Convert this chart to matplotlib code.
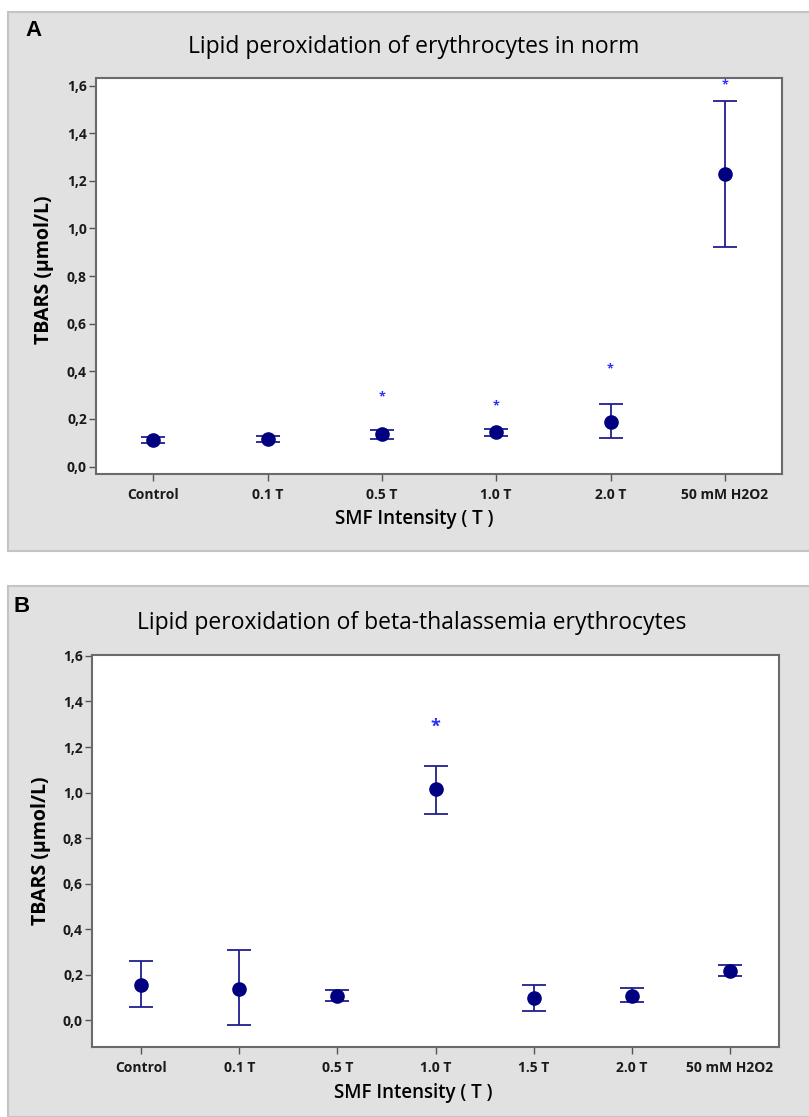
import matplotlib
matplotlib.use("Agg")
import matplotlib.pyplot as plt
from matplotlib.patches import Rectangle

plt.rcParams['font.family'] = ['Open Sans', 'DejaVu Sans']

W, H = 809, 1117

# Panel A: erythrocytes in norm
cats_a = ["Control", "0.1 T", "0.5 T", "1.0 T", "2.0 T", "50 mM H2O2"]
mean_a = [0.110, 0.117, 0.136, 0.144, 0.189, 1.229]
low_a = [0.100, 0.105, 0.117, 0.130, 0.119, 0.921]
high_a = [0.123, 0.130, 0.155, 0.157, 0.262, 1.536]
star_a = [None, None, 0.293, 0.256, 0.410, 1.605]

# Panel B: beta-thalassemia erythrocytes
cats_b = ["Control", "0.1 T", "0.5 T", "1.0 T", "1.5 T", "2.0 T", "50 mM H2O2"]
mean_b = [0.154, 0.139, 0.108, 1.014, 0.097, 0.108, 0.217]
low_b = [0.057, -0.019, 0.086, 0.907, 0.042, 0.079, 0.196]
high_b = [0.260, 0.309, 0.134, 1.118, 0.154, 0.142, 0.243]
star_b = [None, None, None, 1.29, None, None, None]

yticks = [0.0, 0.2, 0.4, 0.6, 0.8, 1.0, 1.2, 1.4, 1.6]


def fx(x):
    return x / W


def fy(y):
    return 1 - y / H


fig = plt.figure(figsize=(W / 100, H / 100), dpi=100)

# grey panel backgrounds
for top, bottom in [(12, 551), (586, 1117)]:
    fig.patches.append(Rectangle((fx(8), fy(bottom)), fx(W + 5) - fx(8), fy(top) - fy(bottom),
                                 transform=fig.transFigure, facecolor='#e1e1e1',
                                 edgecolor='#c4c4c4', lw=1.5, zorder=-5))


def panel(rect, cats, mean, low, high, stars, ylim, star_size):
    ax = fig.add_axes(rect, zorder=2)
    xs = list(range(len(cats)))
    yerr = [[m - l for m, l in zip(mean, low)], [h - m for m, h in zip(mean, high)]]
    ax.errorbar(xs, mean, yerr=yerr, fmt='o', color='#000080', ecolor='#1f1f8f',
                ms=9.5, elinewidth=1.3, capsize=8.5, capthick=1.3, zorder=3)
    for x, s in zip(xs, stars):
        if s is not None:
            ax.text(x, s, '*', color='#2b2bff', fontsize=star_size, ha='center', va='center',
                    fontweight='bold')
    ax.set_xlim(-0.5, len(cats) - 0.5)
    ax.set_ylim(*ylim)
    ax.set_xticks(xs)
    ax.set_xticklabels(cats, fontsize=10, fontweight='bold', color='#1a1a1a')
    ax.set_yticks(yticks)
    ax.set_yticklabels([f"{t:.1f}".replace('.', ',') for t in yticks], fontsize=10,
                       fontweight='bold', color='#1a1a1a')
    ax.tick_params(direction='out', length=5, width=1, color='#555555', pad=1.5)
    ax.tick_params(axis='x', pad=5)
    for sp in ax.spines.values():
        sp.set_color('#6a6a6a')
        sp.set_linewidth(1.5)
    ax.set_facecolor('white')
    return ax


panel([fx(96), fy(474), fx(782) - fx(96), fy(78) - fy(474)],
      cats_a, mean_a, low_a, high_a, star_a, (-0.031, 1.632), 9)
panel([fx(92), fy(1047), fx(779) - fx(92), fy(655) - fy(1047)],
      cats_b, mean_b, low_b, high_b, star_b, (-0.117, 1.604), 13)

# titles, axis labels and panel letters
fig.text(fx(414), fy(47), "Lipid peroxidation of erythrocytes in norm", fontsize=16.5,
         ha='center', va='center', fontweight='medium')
fig.text(fx(412), fy(623), "Lipid peroxidation of beta-thalassemia erythrocytes", fontsize=16.5,
         ha='center', va='center', fontweight='medium')
fig.text(fx(414), fy(519), "SMF Intensity ( T )", fontsize=13.5, ha='center', va='center',
         fontweight='semibold')
fig.text(fx(413), fy(1093), "SMF Intensity ( T )", fontsize=13.5, ha='center', va='center',
         fontweight='semibold')
fig.text(fx(44), fy(270), "TBARS (µmol/L)", fontsize=14, ha='center', va='center',
         rotation=90, fontweight='bold')
fig.text(fx(41), fy(851), "TBARS (µmol/L)", fontsize=14, ha='center', va='center',
         rotation=90, fontweight='bold')
fig.text(fx(33), fy(30), "A", fontsize=16, fontweight='bold', ha='center', va='center',
         family=['Liberation Sans', 'DejaVu Sans'])
fig.text(fx(22), fy(607), "B", fontsize=16, fontweight='bold', ha='center', va='center',
         family=['Liberation Sans', 'DejaVu Sans'])

fig.savefig("out.png", dpi=100)
